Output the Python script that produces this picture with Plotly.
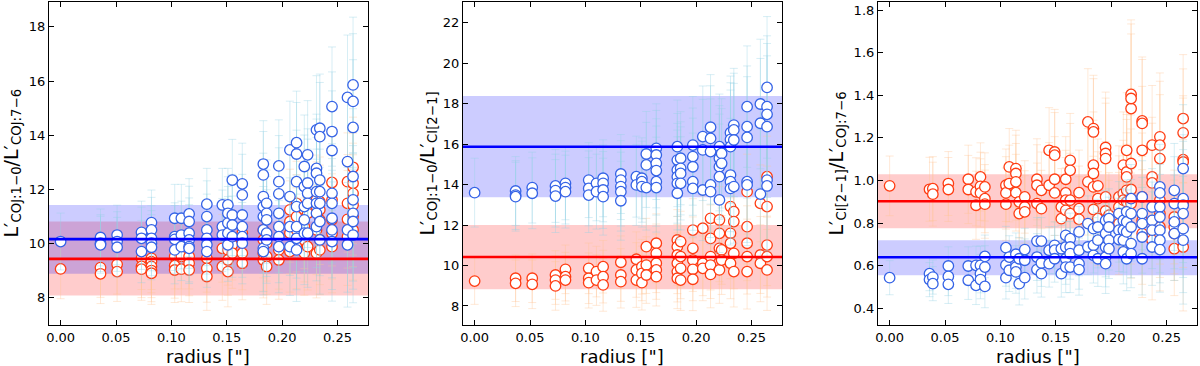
import plotly.graph_objects as go

# ---------------- Panel 1 : CO(1-0)/CO(7-6) ----------------
p1_radius = [0.000, 0.036, 0.051, 0.073, 0.082, 0.103, 0.109, 0.116, 0.132, 0.146, 0.151, 0.155, 0.164,
             0.183, 0.186, 0.197, 0.207, 0.213, 0.220, 0.223, 0.231, 0.234, 0.245, 0.259, 0.264]
p1_blue = [[10.08], [10.23, 10.02, 9.96], [10.32, 10.08, 9.87], [10.42, 10.20, 9.71],
           [10.78, 10.51, 10.20, 10.02, 9.87], [10.94, 10.26, 10.16, 9.77], [10.94, 10.32, 9.89],
           [11.10, 10.82, 10.39, 10.14, 9.89, 9.83], [11.46, 11.00, 10.51, 10.20, 9.96, 9.71],
           [11.43, 10.63, 10.32], [11.43, 11.12, 10.76, 10.39, 9.96], [12.35, 11.06, 10.69, 10.26],
           [12.21, 11.80, 11.06, 10.63, 10.26, 10.02],
           [12.94, 12.54, 11.74, 11.37, 11.00, 10.51, 9.83, 9.71], [11.49, 11.12, 10.88, 10.39, 10.14],
           [12.87, 12.29, 11.84, 11.12, 10.63, 10.26, 9.89], [13.46, 11.74, 10.63, 9.89],
           [13.73, 13.31, 12.29, 11.37, 10.63, 10.20, 9.77], [12.85, 12.11, 11.37, 10.88, 10.39],
           [13.28, 12.24, 11.86, 11.49, 10.39], [14.20, 12.78, 12.60, 11.92, 11.49, 11.12, 10.63],
           [14.26, 13.95, 12.35, 11.92, 11.49, 10.82, 10.14],
           [15.06, 14.14, 13.44, 11.86, 11.49, 10.94, 10.51, 10.08], [15.40, 13.03, 10.51, 9.96],
           [15.86, 15.25, 14.29, 12.48, 11.62, 11.12, 10.82, 10.32]]
p1_red = [[9.07], [9.12, 8.89], [9.24, 8.97], [9.46, 9.16, 9.06], [9.46, 9.34, 9.16, 9.01, 8.91],
          [9.53, 9.19, 9.03], [9.53, 9.06], [9.53, 9.28, 9.03], [9.46, 9.09, 8.79], [9.83, 9.16],
          [9.77, 9.40, 8.97], [9.96, 9.65], [10.39, 9.65, 9.28], [10.51, 10.14, 9.65, 9.40],
          [10.02, 9.53, 9.16], [9.77, 9.40], [11.25, 10.82, 10.39, 9.71], [11.49, 11.00, 10.51, 9.89],
          [11.25, 10.63, 10.14, 9.65], [11.12, 9.89], [11.62, 11.37, 10.51, 9.65],
          [11.55, 11.25, 10.88, 10.14, 9.77], [12.26, 11.62, 10.88, 10.39, 9.89],
          [12.29, 11.49, 10.90, 10.26], [12.82, 12.23, 11.86, 11.43, 11.00, 10.51]]
p1_blue_err = [1.05, 1.05, 1.1, 1.15, 1.2, 1.25, 1.25, 1.3, 1.32, 1.35, 1.35, 1.5, 1.5,
               1.6, 1.6, 1.7, 1.8, 1.9, 1.9, 2.0, 2.0, 2.0, 2.2, 2.3, 2.5]
p1_red_err = [1.1, 1.1, 1.1, 1.15, 1.15, 1.2, 1.2, 1.2, 1.25, 1.25, 1.3, 1.3, 1.35,
              1.4, 1.4, 1.45, 1.5, 1.55, 1.55, 1.6, 1.65, 1.65, 1.7, 1.8, 1.85]
p1_blue_mean, p1_blue_band = 10.17, [8.89, 11.43]
p1_red_mean, p1_red_band = 9.44, [8.09, 10.82]

# ---------------- Panel 2 : CO(1-0)/CI(2-1) ----------------
p2_radius = [0.000, 0.037, 0.052, 0.073, 0.082, 0.103, 0.110, 0.116, 0.132, 0.146, 0.151, 0.155, 0.164,
             0.183, 0.186, 0.197, 0.206, 0.213, 0.221, 0.223, 0.231, 0.234, 0.246, 0.258, 0.264]
p2_blue = [[13.60], [13.68, 13.48, 13.40], [13.85, 13.57], [13.93, 13.70, 13.43], [14.06, 13.85, 13.65],
           [14.22, 13.81, 13.48], [14.06, 13.65], [14.31, 14.06, 13.73, 13.40],
           [14.52, 14.22, 13.90, 13.65, 13.20], [14.39, 13.98], [14.31, 14.14, 13.90],
           [15.51, 14.97, 13.85], [15.79, 15.46, 15.05, 14.69, 14.14, 13.85],
           [15.87, 15.21, 14.72, 14.39, 14.06, 13.57], [15.30, 14.80, 14.55, 14.06],
           [15.95, 15.38, 14.88, 14.14, 13.81], [16.37, 15.71, 13.73], [16.83, 16.28, 15.63, 13.98, 13.65],
           [15.87, 15.30, 14.88, 14.39, 13.24], [15.54, 15.05],
           [16.56, 16.23, 15.87, 14.47, 14.14, 13.81], [16.94, 16.70, 16.20, 13.90],
           [17.85, 16.86, 16.33, 14.14, 13.98], [17.98, 17.03, 13.53],
           [18.80, 17.85, 17.47, 16.86, 14.22, 13.93]]
p2_red = [[9.23], [9.37, 9.12], [9.37, 9.07], [9.53, 9.28, 8.99], [9.81, 9.45, 9.28], [9.86, 9.37, 9.15],
          [9.70, 9.28], [9.94, 9.45, 9.04], [10.16, 9.53, 9.20], [10.31, 9.78, 9.28], [9.94, 9.61, 9.15],
          [10.93, 10.02, 9.53], [11.10, 10.60, 10.11, 9.78, 9.45],
          [11.26, 10.93, 10.52, 10.11, 9.70, 9.37], [11.18, 10.44, 9.86, 9.28],
          [11.75, 10.85, 10.27, 9.81, 9.32], [11.84, 10.11, 9.86], [12.33, 11.34, 10.44, 10.02, 9.56],
          [12.25, 11.59, 10.85, 9.78], [10.77, 10.27], [12.91, 11.59, 11.10, 10.11],
          [12.66, 12.17, 10.60, 9.70], [13.65, 11.92, 11.10, 10.44, 9.70], [13.07, 10.52, 10.11],
          [14.39, 12.91, 11.01, 10.44, 9.78]]
p2_blue_err = [1.7, 1.7, 1.75, 1.8, 1.8, 1.85, 1.85, 1.9, 1.95, 2.0, 2.0, 2.1, 2.2,
               2.3, 2.3, 2.4, 2.5, 2.6, 2.6, 2.7, 2.8, 2.8, 3.0, 3.2, 3.5]
p2_red_err = [1.15, 1.15, 1.2, 1.2, 1.2, 1.25, 1.25, 1.3, 1.3, 1.35, 1.35, 1.4, 1.45,
              1.5, 1.5, 1.55, 1.6, 1.65, 1.65, 1.7, 1.75, 1.75, 1.85, 1.9, 2.0]
p2_blue_mean, p2_blue_band = 15.87, [13.37, 18.38]
p2_red_mean, p2_red_band = 10.42, [8.83, 12.0]

# ---------------- Panel 3 : CI(2-1)/CO(7-6) ----------------
p3_radius = [0.000, 0.036, 0.039, 0.053, 0.071, 0.078, 0.082, 0.086, 0.105, 0.108, 0.114, 0.117, 0.122,
             0.133, 0.137, 0.144, 0.149, 0.155, 0.159, 0.163, 0.171, 0.179, 0.184, 0.188, 0.195, 0.198,
             0.207, 0.211, 0.214, 0.218, 0.228, 0.237, 0.244, 0.257, 0.265]
p3_red = [[0.975], [0.959], [0.962, 0.936], [0.986, 0.958], [1.006, 0.958], [0.947, 0.884],
          [1.017, 0.973, 0.942], [0.970, 0.915, 0.889], [0.978, 0.942, 0.889], [1.064, 0.986],
          [1.056, 1.033, 0.994, 0.943], [0.900, 0.845], [0.923, 0.876, 0.853], [1.006, 0.978, 0.892],
          [0.954, 0.868], [1.142, 0.978], [1.134, 1.119, 1.006, 0.942], [0.876, 0.821],
          [1.006, 0.942, 0.908, 0.860], [1.095, 1.048, 0.908, 0.845], [0.943, 0.868, 0.818],
          [1.275, 0.994], [1.244, 1.228, 1.072, 1.033, 0.970, 0.864], [0.975, 0.915, 0.821],
          [1.155, 1.127, 1.103, 0.923, 0.857], [0.837, 0.801], [0.923, 0.876, 0.798],
          [1.072, 0.939, 0.908], [1.142, 1.040, 1.017, 0.954, 0.900],
          [1.338, 1.404, 1.385, 1.080, 0.958, 0.892], [1.280, 1.268, 1.142, 0.923, 0.813, 0.751],
          [1.166, 1.017, 0.989, 0.720], [1.205, 1.166, 1.103, 0.908, 0.845, 0.782],
          [0.680, 0.829, 0.782, 0.751], [1.291, 1.224, 1.098, 1.087, 0.688, 0.892]]
p3_blue = [[0.544], [0.563, 0.535], [0.547, 0.516], [0.599, 0.550, 0.513], [0.599, 0.532], [0.602, 0.508],
           [0.602, 0.563, 0.535], [0.644, 0.594, 0.503], [0.685, 0.604, 0.544], [0.641, 0.579],
           [0.654, 0.594, 0.571], [0.633, 0.516], [0.676, 0.626, 0.544], [0.716, 0.641, 0.582],
           [0.716, 0.613, 0.563], [0.673, 0.610], [0.696, 0.673, 0.633], [0.680, 0.563],
           [0.743, 0.688, 0.633, 0.594], [0.727, 0.688, 0.657, 0.594], [0.759, 0.673, 0.610, 0.582],
           [0.798, 0.688], [0.774, 0.696, 0.649], [0.782, 0.720, 0.633],
           [0.813, 0.751, 0.688, 0.641, 0.610], [0.821, 0.782, 0.720, 0.680], [0.845, 0.767, 0.723],
           [0.813, 0.767, 0.720, 0.665], [0.853, 0.806, 0.759, 0.633],
           [0.915, 0.845, 0.782, 0.704, 0.657], [0.923, 0.845, 0.798, 0.735, 0.633],
           [0.876, 0.813, 0.767, 0.688], [0.970, 0.942, 0.876, 0.829, 0.767, 0.720, 0.676],
           [0.954, 0.892, 0.806, 0.751], [1.056, 0.915, 0.884, 0.845, 0.774, 0.720]]
p3_red_err = [0.14, 0.15, 0.15, 0.15, 0.16, 0.16, 0.16, 0.16, 0.17, 0.18, 0.18, 0.17, 0.17, 0.19, 0.18,
              0.2, 0.2, 0.18, 0.2, 0.22, 0.2, 0.25, 0.25, 0.22, 0.26, 0.2, 0.24, 0.25, 0.27, 0.35, 0.3,
              0.28, 0.3, 0.22, 0.3]
p3_blue_err = [0.08, 0.08, 0.08, 0.09, 0.09, 0.09, 0.09, 0.1, 0.1, 0.1, 0.1, 0.1, 0.1, 0.11, 0.11, 0.11,
               0.11, 0.11, 0.12, 0.12, 0.12, 0.13, 0.13, 0.13, 0.14, 0.14, 0.15, 0.15, 0.15, 0.16, 0.17,
               0.18, 0.2, 0.22, 0.3]
p3_blue_mean, p3_blue_band = 0.64, [0.555, 0.72]
p3_red_mean, p3_red_band = 0.903, [0.776, 1.03]

y_titles = ["L′<sub>COJ:1−0</sub>/L′<sub>COJ:7−6</sub>",
            "L′<sub>COJ:1−0</sub>/L′<sub>CI[2−1]</sub>",
            "L′<sub>CI[2−1]</sub>/L′<sub>COJ:7−6</sub>"]
x_title = "radius [\"]"
x_ticks = [0.0, 0.05, 0.10, 0.15, 0.20, 0.25]
y_ticks = [[8, 10, 12, 14, 16, 18], [8, 10, 12, 14, 16, 18, 20, 22],
           [0.4, 0.6, 0.8, 1.0, 1.2, 1.4, 1.6, 1.8]]
y_ranges = [[7.0, 18.92], [7.06, 23.02], [0.322, 1.838]]
x_range = [-0.0105, 0.2775]

# ---------------- styling ----------------
W, H = 1200, 366
x_doms = [[49 / W, 368 / W], [463 / W, 782 / W], [878 / W, 1197 / W]]
y_dom = [1 - 325 / H, 1 - 2 / H]
ytitle_px = [12, 428, 837]
FONT = "DejaVu Sans"
BLUE_MK, RED_MK = "#3563e6", "#ff3c12"
BLUE_ERR, RED_ERR = "rgba(150,210,228,0.42)", "rgba(255,196,150,0.42)"


def flatten(radius, groups, errs):
    xs, ys, es = [], [], []
    for r, g, e in zip(radius, groups, errs):
        for v in g:
            xs.append(r)
            ys.append(v)
            es.append(e)
    return xs, ys, es


panels = [
    (p1_radius, p1_blue, p1_red, p1_blue_err, p1_red_err, p1_blue_mean, p1_blue_band, p1_red_mean, p1_red_band),
    (p2_radius, p2_blue, p2_red, p2_blue_err, p2_red_err, p2_blue_mean, p2_blue_band, p2_red_mean, p2_red_band),
    (p3_radius, p3_blue, p3_red, p3_blue_err, p3_red_err, p3_blue_mean, p3_blue_band, p3_red_mean, p3_red_band),
]

fig = go.Figure()
shapes = []
annotations = []
layout = {}

for i, (rad, blue, red, berr, rerr, bmean, bband, rmean, rband) in enumerate(panels):
    n = "" if i == 0 else str(i + 1)
    xa, ya = "x" + n, "y" + n
    for vals, errs, mk, ec in [(red, rerr, RED_MK, RED_ERR), (blue, berr, BLUE_MK, BLUE_ERR)]:
        xs, ys, es = flatten(rad, vals, errs)
        fig.add_trace(go.Scatter(
            x=xs, y=ys, mode="markers", xaxis=xa, yaxis=ya, showlegend=False,
            marker=dict(size=10.5, color="white", line=dict(color=mk, width=1.3)),
            error_y=dict(type="data", array=es, visible=True, color=ec, thickness=0.9, width=4),
        ))
    # shaded bands (below data)
    for band, col in [(rband, "rgba(255,0,0,0.2)"), (bband, "rgba(0,0,255,0.2)")]:
        shapes.append(dict(type="rect", xref=xa + " domain", yref=ya, x0=0, x1=1, y0=band[0], y1=band[1],
                           fillcolor=col, line=dict(width=0), layer="below"))
    # mean lines (above data)
    for mean, col in [(bmean, "#0000ff"), (rmean, "#ff0000")]:
        shapes.append(dict(type="line", xref=xa + " domain", yref=ya, x0=0, x1=1, y0=mean, y1=mean,
                           line=dict(color=col, width=2.6), layer="above"))

    axis_common = dict(showline=True, linecolor="black", linewidth=1.2, mirror="allticks",
                       ticks="inside", ticklen=5, tickwidth=1.1, tickcolor="black",
                       showgrid=False, zeroline=False, automargin=False,
                       tickfont=dict(family=FONT, size=13, color="black"))
    layout["xaxis" + n] = dict(axis_common, domain=x_doms[i], range=x_range, tickvals=x_ticks,
                               tickformat=".2f", anchor=ya)
    layout["yaxis" + n] = dict(axis_common, domain=y_dom, range=y_ranges[i], tickvals=y_ticks[i],
                               tickformat=(".1f" if i == 2 else "d"), anchor=xa)
    annotations.append(dict(text=y_titles[i], xref="paper", yref="paper", x=ytitle_px[i] / W,
                            y=(y_dom[0] + y_dom[1]) / 2, textangle=-90, showarrow=False,
                            xanchor="center", yanchor="middle",
                            font=dict(family=FONT, size=19, color="black")))
    annotations.append(dict(text=x_title, xref="paper", yref="paper",
                            x=(x_doms[i][0] + x_doms[i][1]) / 2, y=(H - 356) / H, showarrow=False,
                            xanchor="center", yanchor="middle",
                            font=dict(family=FONT, size=18, color="black")))

fig.update_layout(width=W, height=H, margin=dict(l=0, r=0, t=0, b=0),
                  paper_bgcolor="white", plot_bgcolor="white", template="none",
                  shapes=shapes, annotations=annotations, font=dict(family=FONT), **layout)
fig.write_html("out.html", config={"displayModeBar": False},
               post_script="document.body.style.margin='0';document.body.style.overflow='hidden';")
